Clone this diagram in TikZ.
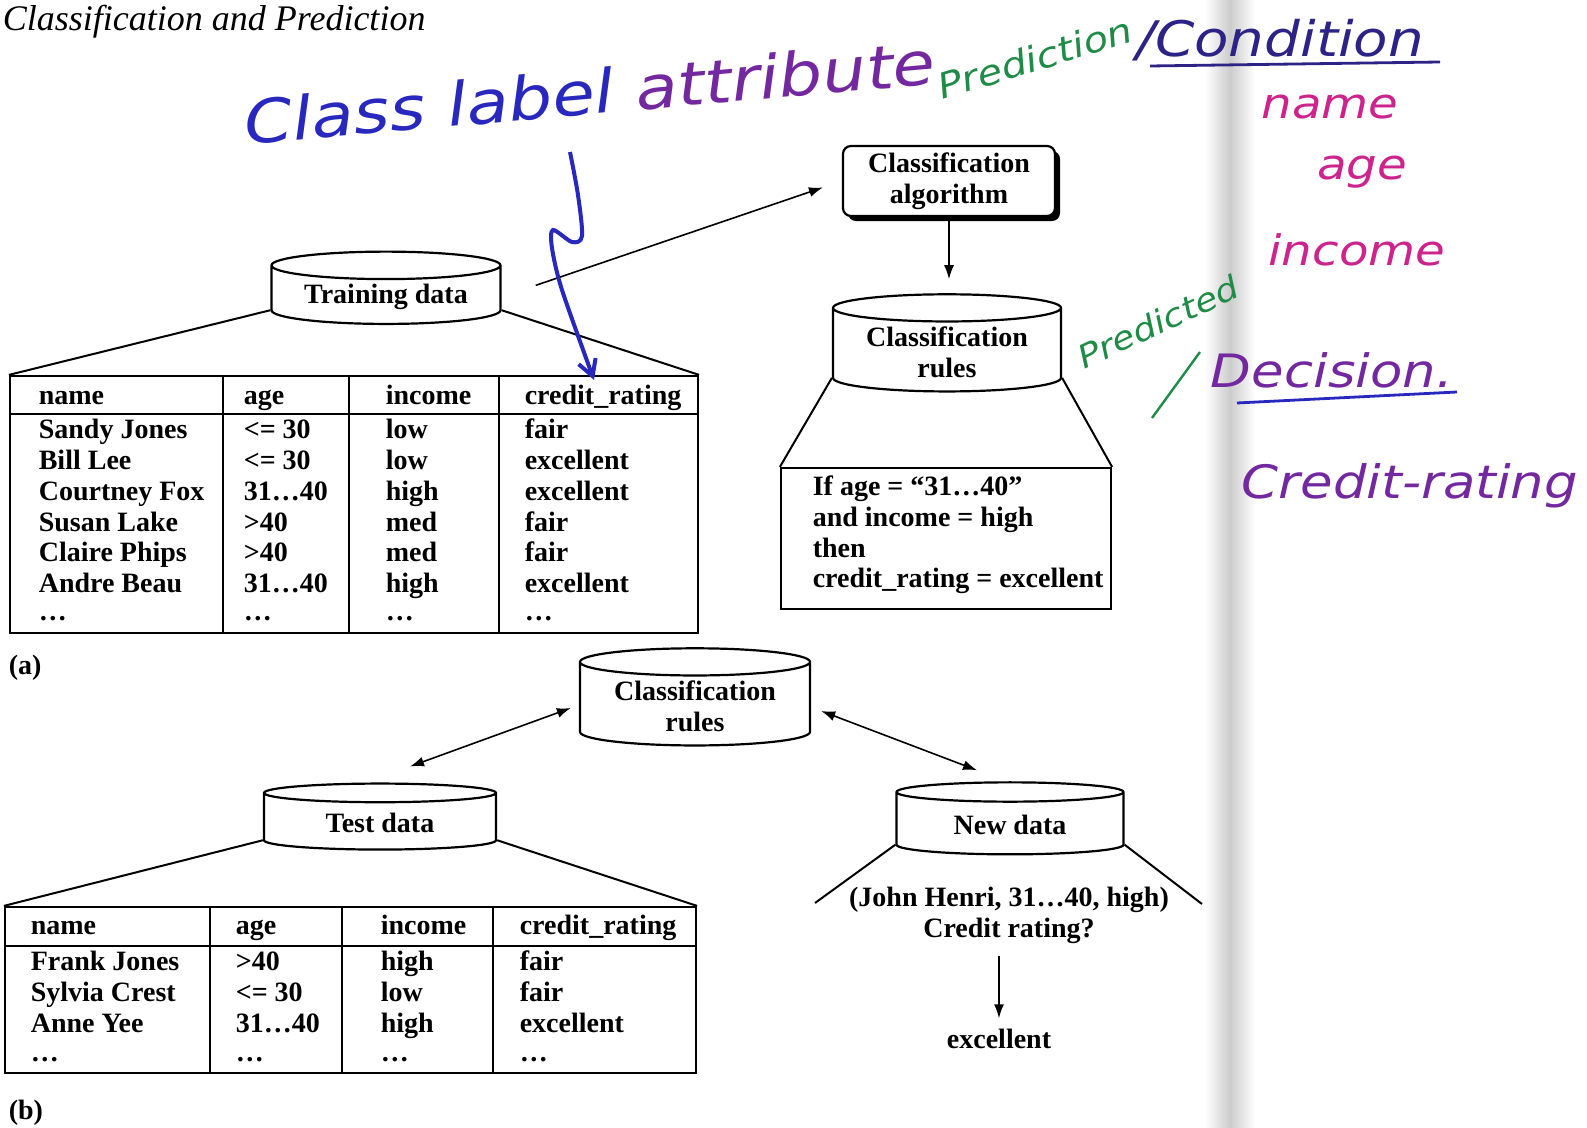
\documentclass[tikz,border=0pt]{standalone}
\usepackage{fontspec}
\setmainfont{Liberation Serif}
\newfontfamily\handfont{DejaVu Sans}[FakeStretch=1.15]
\usetikzlibrary{shapes.geometric,arrows.meta,calc,shadows}

\definecolor{inkblue}{RGB}{40,40,190}
\definecolor{inknavy}{RGB}{45,35,135}
\definecolor{inkpurple}{RGB}{115,40,160}
\definecolor{inkgreen}{RGB}{30,140,70}
\definecolor{inkpink}{RGB}{205,35,140}

\newcommand\figfont{\fontsize{14}{15.4}\selectfont\bfseries}
\newcommand\handsize[1]{\handfont\itshape\fontsize{#1}{#1}\selectfont}

\tikzset{
  db/.style={cylinder, shape border rotate=90, draw, line width=1.1pt, aspect=0.16,
    align=center, font=\figfont, inner sep=2pt},
  frame/.style={draw, line width=1.1pt, inner sep=0pt},
  cell/.style={anchor=base west, font=\figfont, inner sep=0pt},
  hand/.style={inner sep=0pt},
}

\begin{document}
\begin{tikzpicture}[x=0.5pt, y=-0.5pt, >={Latex[length=7pt,width=5pt]}, line width=0.8pt]
\useasboundingbox (0,0) rectangle (1587,1128);

% Page gutter
\shade[left color=white, right color=white, middle color=gray!40] (1205,0) rectangle (1255,1128);

% Title
\node[anchor=west, inner sep=0pt, font=\fontsize{18}{20}\selectfont\itshape] (title) at (2,22) {Classification and Prediction};

% (a) learning
\node[db, minimum width=114.5pt, minimum height=31pt] (train) at (386,297) {Training data};
\node[frame, minimum width=344pt, minimum height=128.5pt] (trtab) at (354,504.5) {};
\draw[line width=1pt] (train.after bottom) -- (trtab.north west);
\draw[line width=1pt] (train.before bottom) -- (trtab.north east);
\foreach \x in {223,349,499}
  \draw[line width=1.1pt] (\x,0 |- trtab.north) -- (\x,0 |- trtab.south);
\draw[line width=1.1pt] (trtab.west |- 0,414) -- (trtab.east |- 0,414);
\foreach \x/\h [count=\k] in {38/name, 243/age, 385/income, 524/credit\_rating}
  \node[cell] (trh\k) at (\x,405) {\h};
\foreach \y/\n/\a/\i/\c [count=\r] in {439/Sandy Jones/<= 30/low/fair,
    470/Bill Lee/<= 30/low/excellent, 501/Courtney Fox/31…40/high/excellent,
    532/Susan Lake/>40/med/fair, 562/Claire Phips/>40/med/fair,
    593/Andre Beau/31…40/high/excellent, 621/…/…/…/…} {
  \node[cell] (trn\r) at (38,\y) {\n};
  \node[cell] (tra\r) at (243,\y) {\a};
  \node[cell] (tri\r) at (385,\y) {\i};
  \node[cell] (trc\r) at (524,\y) {\c};
}

\node[draw, rounded corners=4pt, line width=1.1pt, fill=white, align=center, font=\figfont,
  drop shadow={shadow xshift=2.5pt, shadow yshift=-2.5pt, opacity=1, fill=black},
  minimum width=106pt, minimum height=34pt] (algo) at (949,181) {Classification\\algorithm};
\node[db, minimum width=114pt, minimum height=37pt] (rules) at (947,352) {Classification\\rules};
\node[frame, minimum width=165pt, minimum height=70.5pt] (rulebox) at (946,538.5) {};
\node[anchor=west, align=left, inner sep=0pt, font=\figfont] (ruletext) at (812,535)
  {If age = “31…40”\\and income = high\\then\\credit\_rating = excellent};
\draw[line width=1pt] (rules.after bottom) -- (rulebox.north west);
\draw[line width=1pt] (rules.before bottom) -- (rulebox.north east);

\draw[->, shorten <=18pt, shorten >=10pt] (train.east) -- (algo.west);
\draw[->, shorten >=7pt] (algo.south) -- (algo.south |- rules.north);

\node[anchor=west, inner sep=0pt, font=\figfont] (parta) at (8,668) {(a)};

% (b) classification
\node[db, minimum width=115pt, minimum height=37.5pt] (brules) at (695,706) {Classification\\rules};
\node[db, minimum width=116pt, minimum height=33pt] (test) at (380,823) {Test data};
\node[db, minimum width=113.5pt, minimum height=36pt] (newd) at (1010,825) {New data};
\draw[<->] ($(test.north)+(30,-16)$) -- ($(brules.west)+(-8,2)$);
\draw[<->] ($(brules.east)+(10,5)$) -- ($(newd.north)+(-33,-11)$);

\node[frame, minimum width=345.5pt, minimum height=83pt] (tstab) at (350.5,990) {};
\draw[line width=1pt] (test.after bottom) -- (tstab.north west);
\draw[line width=1pt] (test.before bottom) -- (tstab.north east);
\foreach \x in {210,342,493}
  \draw[line width=1.1pt] (\x,0 |- tstab.north) -- (\x,0 |- tstab.south);
\draw[line width=1.1pt] (tstab.west |- 0,946) -- (tstab.east |- 0,946);
\foreach \x/\h [count=\k] in {30/name, 235/age, 380/income, 519/credit\_rating}
  \node[cell] (tsh\k) at (\x,935) {\h};
\foreach \y/\n/\a/\i/\c [count=\r] in {970/Frank Jones/>40/high/fair,
    1001/Sylvia Crest/<= 30/low/fair, 1032/Anne Yee/31…40/high/excellent, 1061/…/…/…/…} {
  \node[cell] (tsn\r) at (30,\y) {\n};
  \node[cell] (tsa\r) at (235,\y) {\a};
  \node[cell] (tsi\r) at (380,\y) {\i};
  \node[cell] (tsc\r) at (519,\y) {\c};
}

\coordinate (nwl) at (815,903);
\coordinate (nwr) at (1202,904);
\draw[line width=1pt] (newd.after bottom) -- (nwl);
\draw[line width=1pt] (newd.before bottom) -- (nwr);
\node[align=center, inner sep=0pt, font=\figfont] (query) at (1009,915) {(John Henri, 31…40, high)\\Credit rating?};
\node[inner sep=0pt, font=\figfont] (answer) at (999,1039) {excellent};
\draw[->, shorten <=6pt, shorten >=5pt] (query.south -| answer.north) -- (answer.north);

\node[anchor=west, inner sep=0pt, font=\figfont] (partb) at (8,1113) {(b)};

% Handwritten notes
\node[hand, rotate=5, font=\handsize{30}] (classlbl) at (590,92)
  {\textcolor{inkblue}{Class label} \textcolor{inkpurple}{attribute}};
\draw[inkblue, line width=2pt, -{Straight Barb[length=8pt,width=9pt]}]
  plot[smooth] coordinates {(570,152) (578,195) (582,236) (572,242) (553,230) (552,248) (562,290) (594,380)};
\node[hand, rotate=17, text=inkgreen, font=\handsize{17.5}] (predn) at (1035,58) {Prediction};
\node[hand, text=inknavy, font=\handsize{24.5}] (cond) at (1280,40) {/Condition};
\draw[inknavy, line width=1.4pt] (1150,66) -- (1440,62);
\node[hand, text=inkpink, font=\handsize{21}] (hname) at (1330,107) {name};
\node[hand, text=inkpink, font=\handsize{21}] (hage) at (1362,172) {age};
\node[hand, text=inkpink, font=\handsize{21}] (hinc) at (1357,250) {income};
\node[hand, rotate=25, text=inkgreen, font=\handsize{16}] (predd) at (1158,322) {Predicted};
\draw[inkgreen, line width=1.2pt] (1152,418) -- (1200,352);
\node[hand, text=inkpurple, font=\handsize{23}] (decis) at (1332,370) {Decision.};
\draw[inkblue, line width=1.4pt] (1237,403) -- (1457,392);
\node[hand, text=inkpurple, font=\handsize{23}] (hcred) at (1410,486) {Credit-rating};
\end{tikzpicture}
\end{document}
